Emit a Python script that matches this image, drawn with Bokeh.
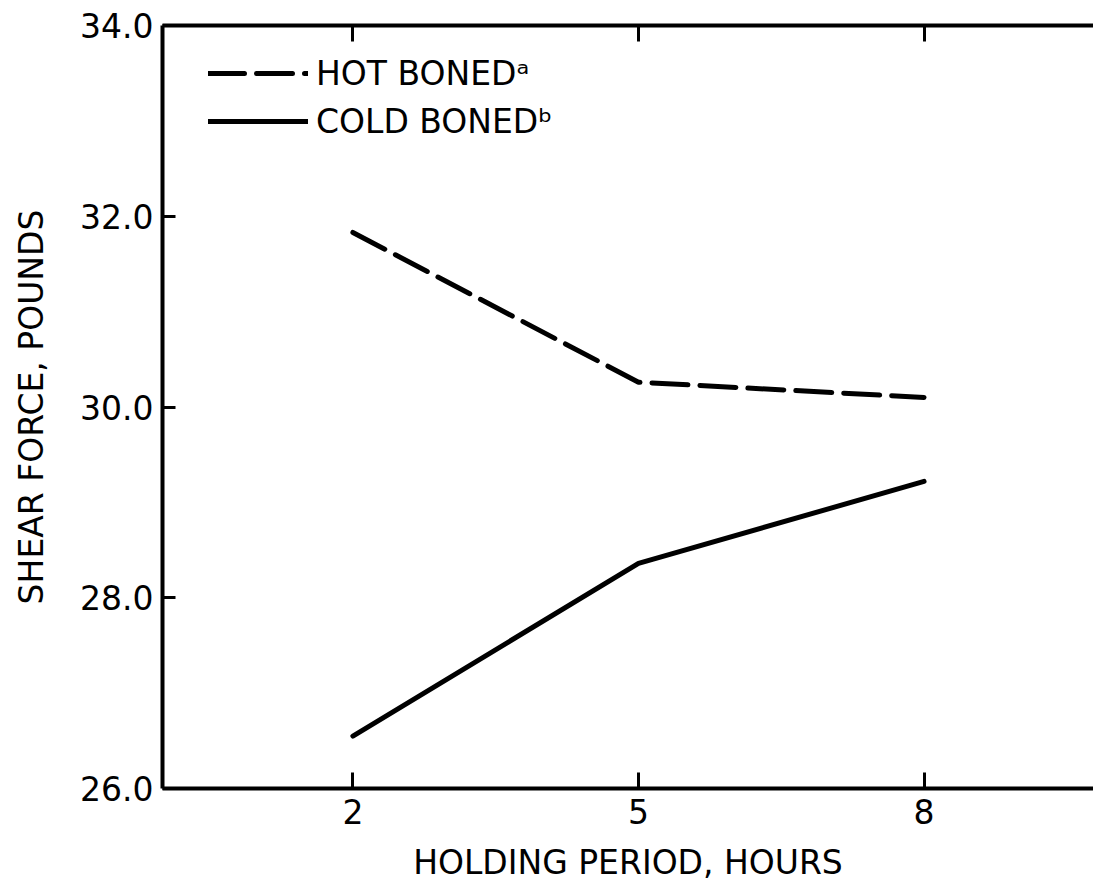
from bokeh.plotting import figure
from bokeh.models import Range1d, LinearAxis, FixedTicker, Legend, LegendItem
from bokeh.embed import file_html
from bokeh.resources import INLINE

# ---- data ----
hours = [2, 5, 8]
hot_boned = [31.83, 30.26, 30.10]
cold_boned = [26.55, 28.36, 29.22]
x_ticks = [2, 5, 8]
y_ticks = [26, 28, 30, 32, 34]
y_tick_labels = ["26.0", "28.0", "30.0", "32.0", "34.0"]
series_labels = ["HOT BONED\u1d43", "COLD BONED\u1d47"]
x_title = "HOLDING PERIOD, HOURS"
y_title = "SHEAR FORCE, POUNDS"

FONT = "DejaVu Sans"

p = figure(width=1093, height=884, output_backend="svg", toolbar_location=None,
           x_range=Range1d(0, 9.78), y_range=Range1d(26, 34),
           x_axis_location=None, y_axis_location=None,
           min_border_left=162, min_border_right=0, min_border_top=25,
           min_border_bottom=96)
p.outline_line_color = None
p.grid.visible = False
p.background_fill_color = "white"
p.border_fill_color = "white"

def style_axis(ax, labels=True):
    ax.axis_line_width = 4
    ax.axis_line_color = "black"
    ax.major_tick_line_width = 3
    ax.major_tick_line_color = "black"
    ax.major_tick_out = 0
    ax.minor_tick_line_color = None
    if labels:
        ax.major_label_text_font = FONT
        ax.major_label_text_font_size = "33px"
        ax.major_label_text_color = "black"
        ax.axis_label_text_font = FONT
        ax.axis_label_text_font_size = "33px"
        ax.axis_label_text_font_style = "normal"
        ax.axis_label_text_color = "black"
    else:
        ax.major_label_text_font_size = "1px"
        ax.major_label_text_alpha = 0

# left axis
ly = LinearAxis(ticker=FixedTicker(ticks=y_ticks),
                major_label_overrides={t: l for t, l in zip(y_ticks, y_tick_labels)},
                axis_label=y_title)
style_axis(ly)
ly.major_tick_in = 13
ly.major_label_standoff = 9
ly.axis_label_standoff = 26
p.add_layout(ly, "left")

# bottom axis
bx = LinearAxis(ticker=FixedTicker(ticks=x_ticks), axis_label=x_title)
style_axis(bx)
bx.major_tick_in = 16
bx.major_label_standoff = 10
bx.axis_label_standoff = 16
p.add_layout(bx, "below")

# top axis (inward ticks, no labels)
tx = LinearAxis(ticker=FixedTicker(ticks=x_ticks))
style_axis(tx, labels=False)
tx.major_tick_in = 16
p.add_layout(tx, "above")

r_hot = p.line(hours, hot_boned, line_color="black", line_width=5,
               line_dash="36 12", line_cap="round")
r_cold = p.line(hours, cold_boned, line_color="black", line_width=5,
                line_cap="round")

legend = Legend(items=[LegendItem(label=series_labels[0], renderers=[r_hot]),
                       LegendItem(label=series_labels[1], renderers=[r_cold])],
                location=(46, 643), padding=0, margin=0, spacing=0,
                glyph_width=100, glyph_height=48, label_height=48,
                label_standoff=8, border_line_alpha=0, background_fill_alpha=0,
                label_text_font=FONT, label_text_font_size="33px",
                label_text_color="black")
p.add_layout(legend, "center")

open("out.html", "w").write(file_html(p, INLINE))
